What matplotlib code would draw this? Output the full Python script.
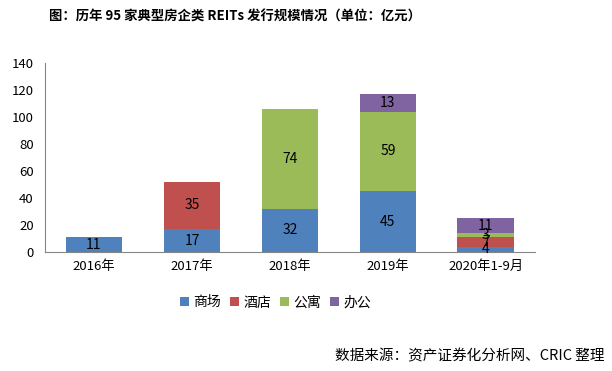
import matplotlib
matplotlib.use("Agg")
import matplotlib.pyplot as plt
import numpy as np

plt.rcParams['font.family'] = ['Noto Sans CJK SC', 'DejaVu Sans']

categories = ['2016年', '2017年', '2018年', '2019年', '2020年1-9月']
series_names = ['商场', '酒店', '公寓', '办公']
mall = [11, 17, 32, 45, 4]
hotel = [0, 35, 0, 0, 7]
apartment = [0, 0, 74, 59, 3]
office = [0, 0, 0, 13, 11]
colors = ['#4F81BD', '#C0504D', '#9BBB59', '#8064A2']
yticks = [0, 20, 40, 60, 80, 100, 120, 140]

fig = plt.figure(figsize=(6.12, 3.71), dpi=100)
ax = fig.add_axes([0.0735, 0.3208, 0.8005, 0.5092])

x = np.arange(len(categories))
bottom = np.zeros(len(categories))
for name, vals, c in zip(series_names, [mall, hotel, apartment, office], colors):
    vals = np.array(vals, dtype=float)
    ax.bar(x, vals, 0.58, bottom=bottom, color=c, label=name)
    for xi, v, b in zip(x, vals, bottom):
        if v > 0:
            ax.text(xi, b + v / 2, f'{int(v)}', ha='center', va='center',
                    fontsize=10, color='black')
    bottom += vals

ax.set_xlim(-0.5, len(categories) - 0.5)
ax.set_ylim(0, 140)
ax.set_yticks(yticks)
ax.set_xticks(x)
ax.set_xticklabels(categories, fontsize=9.5)
ax.tick_params(axis='y', labelsize=9.5, length=0, pad=8)
ax.tick_params(axis='x', length=0, pad=6)
for s in ['top', 'right']:
    ax.spines[s].set_visible(False)
for s in ['left', 'bottom']:
    ax.spines[s].set_color('#868686')

fig.text(0.384, 0.955, '图：历年 95 家典型房企类 REITs 发行规模情况（单位：亿元）',
         ha='center', va='center', fontsize=9.6, fontweight='bold')

fig.legend(loc='center', bbox_to_anchor=(0.45, 0.185), ncol=4, frameon=False,
           fontsize=10, handlelength=0.7, handleheight=0.7, handletextpad=0.3,
           columnspacing=0.6)

fig.text(0.988, 0.04, '数据来源：资产证券化分析网、CRIC 整理', ha='right', va='center',
         fontsize=10.5)

fig.savefig('out.png', dpi=100)
